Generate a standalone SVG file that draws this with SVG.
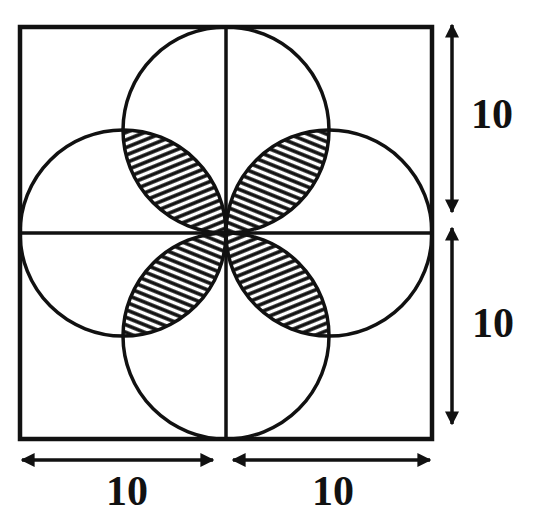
<svg xmlns="http://www.w3.org/2000/svg" width="536" height="514" viewBox="0 0 536 514">
<style>
.ln{fill:none;stroke:#111;stroke-width:3.5}
.sq{fill:#fff;stroke:#111;stroke-width:4.5}
.dim{fill:none;stroke:#111;stroke-width:3.5}
.lbl{font-family:"Liberation Serif","DejaVu Serif",serif;font-size:42px;font-weight:bold;fill:#111;text-anchor:middle}
</style>
<defs>
<pattern id="hA" patternUnits="userSpaceOnUse" width="7" height="7" patternTransform="rotate(-22)">
<rect width="7" height="7" fill="#fff"/><line x1="0" y1="2" x2="7" y2="2" stroke="#111" stroke-width="3.6"/>
</pattern>
<pattern id="hB" patternUnits="userSpaceOnUse" width="7" height="7" patternTransform="rotate(22)">
<rect width="7" height="7" fill="#fff"/><line x1="0" y1="2" x2="7" y2="2" stroke="#111" stroke-width="3.6"/>
</pattern>
<marker id="ah" viewBox="0 0 10 10" refX="9" refY="5" markerWidth="4" markerHeight="4" orient="auto-start-reverse">
<path d="M0,0 L10,5 L0,10 Z" fill="#111"/>
</marker>
</defs>
<rect width="536" height="514" fill="#fff"/>
<g id="square"><rect class="sq" x="20" y="27" width="412" height="412"/></g>
<g id="lenses">
<path d="M123,130 A103,103 0 0 0 226,233 A103,103 0 0 0 123,130 Z" fill="url(#hA)"/>
<path d="M226,233 A103,103 0 0 0 329,130 A103,103 0 0 0 226,233 Z" fill="url(#hB)"/>
<path d="M226,233 A103,103 0 0 0 329,336 A103,103 0 0 0 226,233 Z" fill="url(#hA)"/>
<path d="M226,233 A103,103 0 0 0 123,336 A103,103 0 0 0 226,233 Z" fill="url(#hB)"/>
</g>
<g id="circles">
<circle class="ln" cx="226" cy="130" r="103"/>
<circle class="ln" cx="329" cy="233" r="103"/>
<circle class="ln" cx="226" cy="336" r="103"/>
<circle class="ln" cx="123" cy="233" r="103"/>
</g>
<g id="axes">
<line class="ln" x1="226" y1="27" x2="226" y2="439"/>
<line class="ln" x1="20" y1="233" x2="432" y2="233"/>
</g>
<g id="connectors">
<line class="dim" x1="452" y1="25" x2="452" y2="212" marker-start="url(#ah)" marker-end="url(#ah)"/>
<line class="dim" x1="452" y1="228" x2="452" y2="424" marker-start="url(#ah)" marker-end="url(#ah)"/>
<line class="dim" x1="22" y1="460" x2="213" y2="460" marker-start="url(#ah)" marker-end="url(#ah)"/>
<line class="dim" x1="233" y1="460" x2="430" y2="460" marker-start="url(#ah)" marker-end="url(#ah)"/>
</g>
<g id="labels">
<text class="lbl" x="492" y="128">10</text>
<text class="lbl" x="493" y="337">10</text>
<text class="lbl" x="127" y="505">10</text>
<text class="lbl" x="333" y="505">10</text>
</g>
</svg>
